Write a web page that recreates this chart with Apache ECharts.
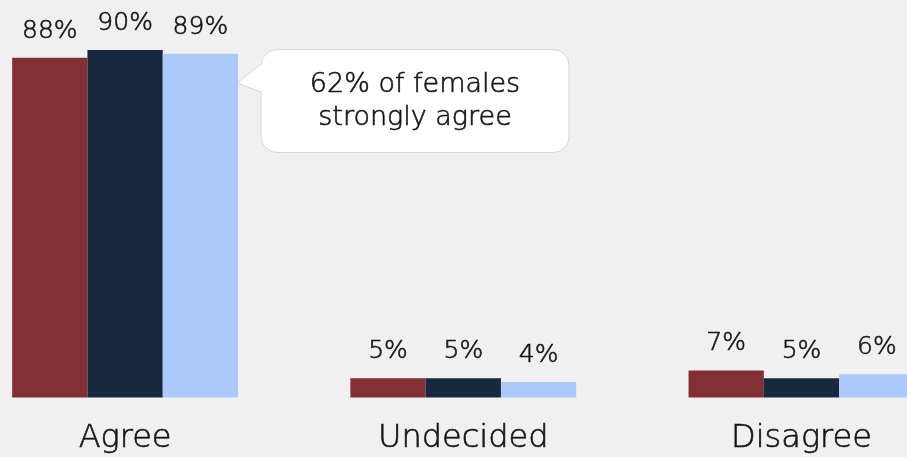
<!DOCTYPE html>
<html>
<head>
<meta charset="utf-8">
<script src="https://cdn.jsdelivr.net/npm/echarts@6/dist/echarts.min.js"></script>
<style>
  html, body { margin: 0; padding: 0; background: #f0f0f0; }
  #chart { width: 907px; height: 457px; }
</style>
</head>
<body>
<div id="chart"></div>
<script>
// Survey responses, percent of respondents in each group
const categories = ['Agree', 'Undecided', 'Disagree'];
const seriesA = [88, 5, 7];
const seriesB = [90, 5, 5];
const seriesC = [89, 4, 6];
const calloutText = '62% of females\nstrongly agree';

const FONT = "'DejaVu Sans ExtraLight', 'DejaVu Sans', sans-serif";
const WEIGHT = 200;
const TEXT = '#141414';
// a thin outline in the text colour gives the light face a little more body
const THICKEN = { textBorderColor: TEXT, textBorderWidth: 0.6 };
const colors = ['#833035', '#17283f', '#adc9fb'];

function barSeries(data, color) {
  return {
    type: 'bar',
    data: data,
    barWidth: 75.3,
    barGap: '0%',
    itemStyle: { color: color },
    label: Object.assign({
      show: true,
      position: 'top',
      distance: 14,
      formatter: '{c}%',
      fontFamily: FONT,
      fontWeight: WEIGHT,
      fontSize: 25,
      color: TEXT
    }, THICKEN)
  };
}

const chart = echarts.init(document.getElementById('chart'), null, { renderer: 'canvas' });
chart.setOption({
  backgroundColor: '#f0f0f0',
  animation: false,
  grid: {
    left: -44,
    right: -63.6,
    top: 11.3,
    bottom: 59.5,
    containLabel: false,
    outerBoundsMode: 'none'
  },
  xAxis: {
    type: 'category',
    data: categories,
    axisLine: { show: false },
    axisTick: { show: false },
    axisLabel: Object.assign({
      margin: 25.5,
      fontFamily: FONT,
      fontWeight: WEIGHT,
      fontSize: 32,
      color: TEXT
    }, THICKEN)
  },
  yAxis: {
    type: 'value',
    min: 0,
    max: 100,
    show: false,
    splitLine: { show: false }
  },
  series: [
    barSeries(seriesA, colors[0]),
    barSeries(seriesB, colors[1]),
    barSeries(seriesC, colors[2])
  ],
  graphic: [
    // speech bubble body
    {
      type: 'rect',
      shape: { x: 261, y: 49.5, width: 308, height: 103, r: 16 },
      style: { fill: '#ffffff', stroke: '#d6d6d6', lineWidth: 1 }
    },
    // bubble pointer fill (hides the body border where they join)
    {
      type: 'polygon',
      shape: { points: [[237, 83], [262, 64], [262, 92]] },
      style: { fill: '#ffffff' }
    },
    // bubble pointer outline
    {
      type: 'polyline',
      shape: { points: [[261, 64], [237, 83], [261, 92]] },
      style: { fill: null, stroke: '#d6d6d6', lineWidth: 1 }
    },
    {
      type: 'text',
      x: 415,
      y: 101.5,
      style: {
        text: calloutText,
        fontFamily: FONT,
        fontWeight: WEIGHT,
        fontSize: 27,
        lineHeight: 33,
        fill: TEXT,
        stroke: TEXT,
        lineWidth: 0.6,
        align: 'center',
        verticalAlign: 'middle'
      }
    }
  ]
});
</script>
</body>
</html>
